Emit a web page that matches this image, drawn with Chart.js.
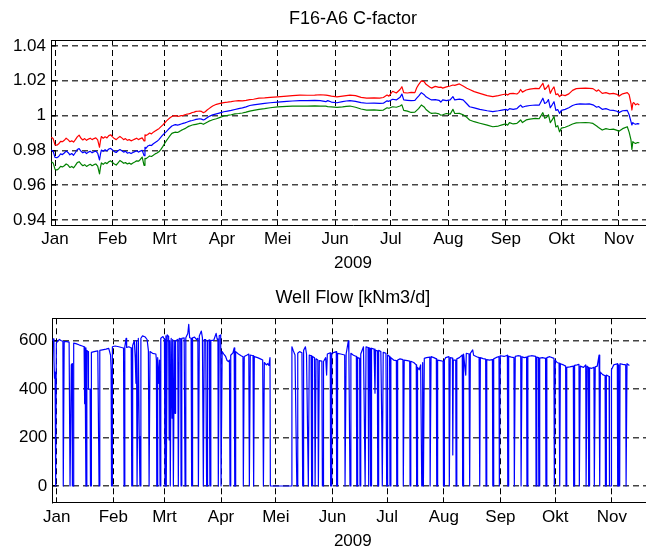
<!DOCTYPE html>
<html>
<head>
<meta charset="utf-8">
<script src="https://cdn.jsdelivr.net/npm/chart.js@4.4.1/dist/chart.umd.min.js"></script>
<style>
  html, body { margin: 0; padding: 0; background: #fff; }
  #wrap { position: relative; width: 646px; height: 550px; overflow: hidden; background: #fff; }
  #wrap canvas { position: absolute; left: 0; }
</style>
</head>
<body>
<div id="wrap">
  <canvas id="chartCFactor" width="660" height="275" style="top:0;width:660px;height:275px"></canvas>
  <canvas id="chartFlow" width="660" height="280" style="top:275px;width:660px;height:280px"></canvas>
</div>
<script>
// dag 0 = 1 januari 2009
const MONTH_DAYS = [0, 31, 59, 90, 120, 151, 181, 212, 243, 273, 304];
const MONTH_LABELS = ["Jan", "Feb", "Mrt", "Apr", "Mei", "Jun", "Jul", "Aug", "Sep", "Okt", "Nov"];
const C_TICKS = [0.94, 0.96, 0.98, 1, 1.02, 1.04];
const FLOW_TICKS = [0, 200, 400, 600];

const C_DAYS = [
  -2, -1, 0, 1, 2, 3, 4, 5, 6, 7,
  8, 9, 10, 11, 12, 13, 14, 15, 16, 17,
  18, 19, 20, 21, 22, 23, 24, 24.5, 25, 26,
  27, 28, 29, 30, 31, 32, 33, 34, 35, 36,
  37, 38, 39, 40, 41, 42, 43, 44, 45, 46,
  47, 48, 48.5, 49, 50, 51, 52, 53, 54, 55,
  56, 57, 58, 59, 60, 61, 62, 63, 64, 65,
  66, 67, 68, 69, 70, 71, 72, 73, 74, 75,
  76, 77, 78, 79, 80, 81, 82, 83, 84, 85,
  87, 89, 91, 93, 95, 97, 99, 101, 103, 105,
  107, 110, 113, 116, 120, 125, 128, 132, 136, 140,
  143, 146, 147, 149, 152, 155, 157, 159, 162, 165,
  168, 172, 175, 177, 179, 180, 182, 184, 186, 187,
  188, 190, 192, 194, 195, 196, 197.5, 199, 200, 202,
  203, 205, 207, 208, 209, 211, 213, 214.5, 215.5, 218,
  220, 222, 223.5, 226, 229, 233, 236, 239, 241, 243,
  244, 245, 247, 249, 250, 251, 252, 254, 256, 259,
  261, 263, 264, 265, 266, 267, 268, 269, 270, 271,
  272, 273, 275, 277, 279, 281, 283, 286, 288, 290,
  292, 293, 295, 297, 299, 301, 303, 304, 306, 308.5,
  309.5, 310.5, 311, 311.5, 312, 313, 314, 315
];

const C_RED = [
  0.9875, 0.9868, 0.9832, 0.9830, 0.9838, 0.9852, 0.9850, 0.9858, 0.9870, 0.9862,
  0.9850, 0.9855, 0.9848, 0.9862, 0.9878, 0.9888, 0.9870, 0.9860, 0.9868, 0.9858,
  0.9865, 0.9870, 0.9862, 0.9868, 0.9872, 0.9860, 0.9818, 0.9855, 0.9880, 0.9870,
  0.9878, 0.9872, 0.9885, 0.9890, 0.9878, 0.9868, 0.9862, 0.9872, 0.9880, 0.9872,
  0.9862, 0.9868, 0.9858, 0.9862, 0.9855, 0.9860, 0.9865, 0.9870, 0.9862, 0.9868,
  0.9872, 0.9855, 0.9890, 0.9885, 0.9892, 0.9900, 0.9895, 0.9905, 0.9912, 0.9918,
  0.9925, 0.9935, 0.9945, 0.9956, 0.9968, 0.9978, 0.9988, 0.9995, 0.9998, 1.0000,
  0.9996, 0.9997, 1.0000, 1.0000, 1.0005, 1.0008, 1.0010, 1.0013, 1.0018, 1.0020,
  1.0024, 1.0025, 1.0026, 1.0024, 1.0017, 1.0022, 1.0032, 1.0040, 1.0048, 1.0055,
  1.0065, 1.0070, 1.0075, 1.0077, 1.0080, 1.0084, 1.0086, 1.0085, 1.0088, 1.0092,
  1.0094, 1.0100, 1.0102, 1.0105, 1.0108, 1.0112, 1.0115, 1.0118, 1.0117, 1.0118,
  1.0120, 1.0118, 1.0116, 1.0112, 1.0108, 1.0112, 1.0115, 1.0118, 1.0115, 1.0105,
  1.0100, 1.0102, 1.0100, 1.0104, 1.0118, 1.0112, 1.0140, 1.0130, 1.0150, 1.0166,
  1.0132, 1.0130, 1.0134, 1.0132, 1.0160, 1.0178, 1.0200, 1.0195, 1.0180, 1.0165,
  1.0158, 1.0168, 1.0162, 1.0164, 1.0158, 1.0165, 1.0170, 1.0176, 1.0174, 1.0182,
  1.0170, 1.0157, 1.0150, 1.0138, 1.0128, 1.0115, 1.0109, 1.0115, 1.0120, 1.0124,
  1.0118, 1.0126, 1.0128, 1.0124, 1.0132, 1.0150, 1.0135, 1.0147, 1.0152, 1.0157,
  1.0155, 1.0186, 1.0150, 1.0160, 1.0176, 1.0128, 1.0150, 1.0165, 1.0120, 1.0125,
  1.0109, 1.0120, 1.0115, 1.0125, 1.0145, 1.0155, 1.0157, 1.0158, 1.0157, 1.0155,
  1.0140, 1.0148, 1.0128, 1.0132, 1.0125, 1.0128, 1.0122, 1.0112, 1.0125, 1.0132,
  1.0120, 1.0071, 1.0032, 1.0070, 1.0075, 1.0062, 1.0068, 1.0061
];

const C_BLUE = [
  0.9802, 0.9795, 0.9760, 0.9758, 0.9765, 0.9780, 0.9776, 0.9785, 0.9796, 0.9788,
  0.9775, 0.9782, 0.9772, 0.9788, 0.9805, 0.9810, 0.9795, 0.9786, 0.9792, 0.9782,
  0.9790, 0.9795, 0.9786, 0.9792, 0.9796, 0.9784, 0.9745, 0.9778, 0.9802, 0.9795,
  0.9804, 0.9797, 0.9808, 0.9812, 0.9802, 0.9793, 0.9788, 0.9798, 0.9805, 0.9798,
  0.9790, 0.9795, 0.9784, 0.9788, 0.9782, 0.9788, 0.9793, 0.9798, 0.9790, 0.9796,
  0.9800, 0.9770, 0.9818, 0.9812, 0.9825, 0.9830, 0.9828, 0.9838, 0.9845, 0.9852,
  0.9862, 0.9875, 0.9888, 0.9898, 0.9908, 0.9920, 0.9930, 0.9940, 0.9945, 0.9948,
  0.9945, 0.9948, 0.9952, 0.9955, 0.9958, 0.9962, 0.9966, 0.9970, 0.9972, 0.9975,
  0.9978, 0.9980, 0.9982, 0.9980, 0.9975, 0.9980, 0.9988, 0.9995, 1.0000, 1.0004,
  1.0010, 1.0016, 1.0022, 1.0026, 1.0030, 1.0035, 1.0040, 1.0044, 1.0050, 1.0058,
  1.0062, 1.0066, 1.0070, 1.0074, 1.0078, 1.0082, 1.0084, 1.0086, 1.0086, 1.0087,
  1.0086, 1.0080, 1.0086, 1.0078, 1.0074, 1.0080, 1.0084, 1.0086, 1.0082, 1.0075,
  1.0071, 1.0072, 1.0070, 1.0071, 1.0085, 1.0082, 1.0094, 1.0090, 1.0105, 1.0124,
  1.0090, 1.0088, 1.0086, 1.0088, 1.0100, 1.0112, 1.0132, 1.0120, 1.0108, 1.0095,
  1.0090, 1.0092, 1.0088, 1.0078, 1.0090, 1.0086, 1.0090, 1.0109, 1.0090, 1.0095,
  1.0090, 1.0068, 1.0051, 1.0044, 1.0036, 1.0028, 1.0023, 1.0028, 1.0032, 1.0036,
  1.0030, 1.0040, 1.0036, 1.0040, 1.0051, 1.0060, 1.0048, 1.0055, 1.0058, 1.0061,
  1.0060, 1.0100, 1.0070, 1.0075, 1.0092, 1.0045, 1.0062, 1.0080, 1.0030, 1.0035,
  1.0013, 1.0030, 1.0036, 1.0045, 1.0058, 1.0065, 1.0067, 1.0066, 1.0067, 1.0062,
  1.0048, 1.0052, 1.0036, 1.0040, 1.0032, 1.0030, 1.0025, 1.0017, 1.0028, 1.0030,
  1.0005, 0.9965, 0.9946, 0.9960, 0.9955, 0.9950, 0.9954, 0.9952
];

const C_GREEN = [
  0.9735, 0.9728, 0.9692, 0.9687, 0.9695, 0.9708, 0.9705, 0.9712, 0.9722, 0.9716,
  0.9702, 0.9708, 0.9700, 0.9714, 0.9730, 0.9735, 0.9722, 0.9712, 0.9718, 0.9708,
  0.9715, 0.9720, 0.9712, 0.9718, 0.9722, 0.9710, 0.9665, 0.9702, 0.9728, 0.9720,
  0.9730, 0.9724, 0.9735, 0.9740, 0.9730, 0.9722, 0.9716, 0.9728, 0.9742, 0.9735,
  0.9726, 0.9730, 0.9722, 0.9727, 0.9720, 0.9728, 0.9733, 0.9740, 0.9738, 0.9748,
  0.9762, 0.9714, 0.9755, 0.9752, 0.9760, 0.9768, 0.9765, 0.9772, 0.9780, 0.9785,
  0.9792, 0.9805, 0.9820, 0.9838, 0.9855, 0.9870, 0.9885, 0.9898, 0.9902, 0.9905,
  0.9903, 0.9908, 0.9915, 0.9920, 0.9925, 0.9932, 0.9938, 0.9942, 0.9946, 0.9948,
  0.9950, 0.9952, 0.9955, 0.9955, 0.9950, 0.9956, 0.9962, 0.9968, 0.9972, 0.9976,
  0.9982, 0.9990, 0.9998, 1.0001, 1.0005, 1.0010, 1.0012, 1.0015, 1.0020, 1.0026,
  1.0030, 1.0036, 1.0040, 1.0045, 1.0050, 1.0053, 1.0054, 1.0055, 1.0055, 1.0056,
  1.0055, 1.0054, 1.0052, 1.0050, 1.0047, 1.0050, 1.0053, 1.0055, 1.0048, 1.0038,
  1.0032, 1.0033, 1.0030, 1.0032, 1.0045, 1.0042, 1.0051, 1.0048, 1.0055, 1.0062,
  1.0030, 1.0026, 1.0018, 1.0020, 1.0030, 1.0040, 1.0061, 1.0050, 1.0035, 1.0018,
  1.0013, 1.0015, 1.0010, 1.0002, 1.0005, 1.0012, 1.0008, 1.0036, 1.0012, 1.0013,
  1.0005, 0.9990, 0.9975, 0.9965, 0.9956, 0.9945, 0.9936, 0.9940, 0.9947, 0.9952,
  0.9945, 0.9960, 0.9952, 0.9955, 0.9965, 0.9975, 0.9960, 0.9975, 0.9980, 0.9984,
  0.9982, 1.0017, 0.9985, 0.9990, 1.0005, 0.9960, 0.9975, 0.9995, 0.9935, 0.9942,
  0.9907, 0.9928, 0.9933, 0.9942, 0.9952, 0.9958, 0.9959, 0.9960, 0.9959, 0.9955,
  0.9940, 0.9932, 0.9917, 0.9925, 0.9920, 0.9922, 0.9915, 0.9910, 0.9925, 0.9936,
  0.9905, 0.9860, 0.9806, 0.9850, 0.9846, 0.9840, 0.9845, 0.9844
];

// [dag, kNm3/d]
const FLOW = [
  [-2.3, 600], [-1.8, 608], [-1.5, 520], [-1.2, 445], [-0.9, 470], [-0.7, 0], [-0.4, 0], [-0.2, 590],
  [0.5, 598], [1.5, 605], [2.5, 600], [3.4, 598], [3.6, 0], [3.9, 0], [4.1, 596], [5.5, 596],
  [6.8, 594], [7.3, 0], [7.8, 0], [8.0, 500], [8.4, 505], [8.6, 0], [9.1, 0], [9.3, 590],
  [10.5, 588], [12.5, 582], [14, 578], [15.0, 575], [15.3, 340], [15.5, 570], [16.0, 0], [16.3, 0],
  [16.5, 560], [17.2, 555], [17.4, 400], [18.3, 400], [18.5, 0], [18.8, 0], [19.0, 552], [20.5, 555],
  [22.5, 558], [23.2, 0], [23.5, 0], [23.7, 560], [25, 562], [27, 565], [28.5, 568], [29.5, 540],
  [29.8, 480], [30.0, 0], [30.3, 0], [30.5, 575], [32, 578], [34, 575], [35.5, 572], [36.6, 570],
  [36.9, 0], [37.2, 0], [37.4, 575], [38.0, 610], [38.3, 572], [39.5, 575], [40.8, 570], [41.1, 0],
  [41.4, 0], [41.6, 580], [42.5, 600], [43.0, 530], [43.4, 424], [43.7, 600], [44.0, 0], [44.4, 0],
  [44.7, 610], [45.2, 204], [45.6, 0], [45.9, 0], [46.1, 610], [47, 620], [48.5, 615], [49.5, 605],
  [50.2, 560], [50.6, 0], [50.9, 0], [51.1, 555], [52.5, 548], [54.3, 545], [54.6, 520], [54.8, 0],
  [55.1, 0], [55.3, 530], [55.9, 424], [56.3, 520], [56.6, 0], [56.9, 0], [57.1, 610], [58.2, 617],
  [59.0, 605], [59.3, 0], [59.6, 0], [59.8, 620], [60.0, 0], [60.3, 0], [60.5, 624], [61.3, 618],
  [61.6, 190], [61.9, 600], [62.2, 0], [62.5, 0], [62.7, 610], [63.2, 280], [63.5, 605], [63.9, 0],
  [64.2, 0], [64.4, 600], [64.8, 300], [65.1, 600], [66.3, 605], [66.6, 0], [66.9, 0], [67.1, 610],
  [67.9, 608], [68.1, 0], [68.4, 0], [68.6, 610], [69.8, 612], [70.3, 0], [70.6, 0], [70.8, 612],
  [71.8, 630], [72.3, 668], [72.8, 612], [73.6, 610], [73.9, 0], [74.2, 0], [74.4, 612], [75.5, 615],
  [76.5, 605], [77.3, 610], [77.6, 0], [77.9, 0], [78.1, 620], [79.2, 640], [79.8, 612], [80.3, 0],
  [80.6, 0], [80.8, 605], [81.6, 605], [82.1, 0], [82.4, 0], [82.6, 600], [83.5, 603], [83.9, 0],
  [84.2, 0], [84.4, 600], [86, 602], [87.3, 630], [87.9, 605], [88.3, 608], [88.5, 0], [88.8, 0],
  [89.0, 620], [89.8, 624], [90.0, 0], [90.4, 0], [90.6, 555], [91.5, 545], [92.5, 535], [93.3, 518],
  [94.0, 514], [94.6, 520], [94.9, 0], [95.2, 0], [95.4, 540], [96.5, 550], [97.2, 570], [97.5, 0],
  [97.8, 0], [98.0, 555], [99.5, 545], [101, 538], [102, 534], [102.2, 0], [102.5, 0], [102.7, 535],
  [104, 540], [105.2, 545], [105.5, 0], [105.8, 0], [106, 541], [107.5, 538], [107.7, 0], [108, 0],
  [108.2, 534], [110, 530], [111.5, 525], [112.8, 520], [113.2, 0], [113.5, 0], [113.7, 510], [114.8, 500],
  [115.5, 505], [116.2, 498], [116.8, 530], [117.0, 0], [128.7, 0], [128.8, 575], [129.5, 560], [130.5, 541],
  [131.5, 0], [131.8, 0], [132, 548], [133, 555], [134.3, 550], [134.7, 0], [135.0, 0], [135.2, 560],
  [136.2, 575], [136.8, 545], [137.8, 0], [138.1, 0], [138.3, 541], [139.3, 538], [139.6, 0], [139.9, 0],
  [140.1, 535], [141.2, 530], [141.5, 0], [141.8, 0], [142, 525], [143, 520], [143.3, 0], [143.6, 0],
  [143.8, 518], [145.2, 516], [145.5, 0], [145.9, 0], [146.1, 514], [147.3, 530], [147.8, 458], [148.2, 545],
  [149.8, 550], [150.0, 0], [150.4, 0], [150.6, 548], [152, 552], [153.1, 555], [153.3, 0], [153.6, 0],
  [153.8, 548], [155.5, 545], [157.7, 541], [157.9, 0], [158.3, 0], [158.5, 545], [159.7, 599], [160.0, 550],
  [160.6, 0], [160.9, 0], [161.1, 548], [162.5, 540], [164.1, 535], [164.3, 0], [164.6, 0], [164.8, 530],
  [165.9, 527], [166.1, 0], [166.4, 0], [166.6, 545], [168.0, 575], [168.9, 0], [169.2, 0], [169.4, 575],
  [170.5, 572], [170.7, 0], [171.0, 0], [171.2, 570], [171.7, 568], [171.9, 0], [172.2, 0], [172.4, 569],
  [173.8, 565], [174.3, 383], [174.6, 560], [175.6, 558], [175.8, 0], [176.1, 0], [176.3, 560], [177.5, 555],
  [178.0, 259], [178.3, 0], [178.6, 0], [178.8, 552], [180.3, 548], [180.7, 0], [181.0, 0], [181.2, 541],
  [182.3, 535], [182.5, 0], [182.8, 0], [183, 530], [184.5, 520], [186.0, 518], [186.2, 0], [186.5, 0],
  [186.7, 520], [188, 525], [189.6, 522], [189.8, 0], [190.1, 0], [190.3, 520], [192, 518], [193.3, 516],
  [193.5, 0], [193.8, 0], [194, 515], [195.5, 510], [196.9, 500], [197.1, 0], [197.4, 0], [197.6, 490],
  [198.5, 480], [199.3, 500], [199.9, 0], [200.2, 0], [200.4, 510], [200.8, 0], [201.1, 0], [201.3, 527],
  [202.5, 530], [204.3, 532], [204.5, 0], [204.8, 0], [205.0, 534], [206.5, 530], [207.9, 525], [208.1, 0],
  [208.4, 0], [208.6, 520], [210, 518], [211.6, 515], [211.8, 0], [212.1, 0], [212.3, 520], [213.0, 530],
  [214.8, 534], [215.0, 0], [215.3, 0], [215.5, 530], [216.7, 528], [216.9, 128], [217.2, 520], [218.5, 520],
  [218.7, 0], [219.0, 0], [219.2, 525], [220.5, 530], [222.1, 541], [222.3, 0], [222.6, 0], [222.8, 545],
  [224, 458], [224.3, 548], [225.8, 545], [226.0, 0], [226.3, 0], [226.5, 548], [227.8, 562], [228.3, 540],
  [230, 534], [231.3, 530], [231.5, 0], [231.8, 0], [232, 530], [233.5, 526], [234.9, 524], [235.1, 0],
  [235.4, 0], [235.6, 522], [237, 520], [238.6, 522], [238.8, 0], [239.1, 0], [239.3, 525], [240.5, 530],
  [242.2, 535], [242.4, 0], [242.7, 0], [242.9, 538], [245, 535], [246.8, 540], [247.0, 0], [247.3, 0],
  [247.5, 535], [249, 532], [250.4, 530], [250.6, 0], [250.9, 0], [251.1, 535], [252.5, 538], [254.1, 536],
  [254.3, 0], [254.6, 0], [254.8, 534], [256, 530], [257.3, 532], [257.5, 0], [257.8, 0], [258, 535],
  [260, 538], [262.3, 535], [262.5, 0], [262.8, 0], [263.0, 532], [263.8, 530], [264.0, 0], [264.3, 0],
  [264.5, 528], [266, 530], [267.7, 527], [267.9, 0], [268.2, 0], [268.4, 530], [270, 534], [272.3, 527],
  [272.5, 0], [272.8, 0], [273, 520], [274, 510], [275.1, 507], [275.3, 0], [275.6, 0], [275.8, 505],
  [277.5, 500], [278.7, 495], [278.9, 0], [279.2, 0], [279.4, 490], [281, 492], [282.9, 495], [283.1, 0],
  [283.4, 0], [283.6, 498], [285, 500], [286, 502], [286.2, 0], [286.5, 0], [286.7, 495], [288.5, 490],
  [289.7, 500], [289.9, 0], [290.2, 0], [290.4, 495], [291.1, 490], [291.3, 0], [291.6, 0], [291.8, 488],
  [293, 486], [294.2, 490], [294.4, 0], [294.7, 0], [294.9, 492], [296, 495], [297.0, 541], [297.2, 0],
  [297.5, 0], [297.7, 470], [299, 460], [300.3, 455], [300.5, 0], [300.8, 0], [301, 458], [302.5, 452],
  [302.7, 0], [303.6, 0], [303.8, 480], [305, 500], [307.0, 505], [307.2, 0], [307.5, 0], [307.7, 500],
  [307.9, 0], [308.3, 0], [308.5, 505], [310, 502], [311.6, 500], [311.8, 0], [312.1, 0], [312.3, 505],
  [313.6, 498]
];

const FONT = "'Liberation Sans', Arial, Helvetica, sans-serif";
const TICK_FONT = { family: FONT, size: 17, weight: "normal" };
const TITLE_FONT = { family: FONT, size: 18, weight: "normal" };

function monthTicks(scale) {
  scale.ticks = MONTH_DAYS.map((v) => ({ value: v }));
}

function tijdAs(min, max, hoogte, labelPad, titelPad) {
  return {
    type: "linear",
    position: "bottom",
    min: min,
    max: max,
    afterBuildTicks: monthTicks,
    afterFit: (s) => { s.height = hoogte; },
    ticks: {
      autoSkip: false,
      maxRotation: 0,
      color: "#000",
      font: TICK_FONT,
      padding: labelPad,
      callback: (v, i) => MONTH_LABELS[i],
    },
    grid: { color: "#000", lineWidth: 1, drawTicks: true, tickLength: -5, tickColor: "#000" },
    border: { display: true, color: "#000", width: 1, dash: [6, 4] },
    title: { display: true, text: "2009", color: "#000", font: TICK_FONT, padding: { top: 0, bottom: titelPad } },
  };
}

function bovenAs(min, max) {
  return {
    type: "linear",
    position: "top",
    min: min,
    max: max,
    afterBuildTicks: monthTicks,
    afterFit: (s) => { s.height = 0; },
    ticks: { display: false },
    grid: { drawOnChartArea: false, drawTicks: true, tickLength: -5, tickColor: "#000", color: "#000" },
    border: { display: true, color: "#000", width: 1 },
  };
}

function waardeAs(min, max, ticks, breedte) {
  return {
    type: "linear",
    position: "left",
    min: min,
    max: max,
    afterBuildTicks: (s) => { s.ticks = ticks.map((v) => ({ value: v })); },
    afterFit: (s) => { s.width = breedte; },
    ticks: { color: "#000", font: TICK_FONT, padding: 10, callback: (v) => String(v) },
    grid: { color: "#444", lineWidth: 1.5, drawTicks: true, tickLength: -5, tickColor: "#000" },
    border: { display: true, color: "#000", width: 1, dash: [6, 4] },
  };
}

function lijn(label, data, kleur) {
  return {
    label: label,
    data: data,
    borderColor: kleur,
    backgroundColor: kleur,
    borderWidth: 1.2,
    pointRadius: 0,
    tension: 0,
    borderJoinStyle: "round",
  };
}

function titel(tekst, top, bottom) {
  return {
    display: true,
    text: tekst,
    fullSize: false,
    color: "#000",
    font: TITLE_FONT,
    padding: { top: top, bottom: bottom },
  };
}

// C-factor, drie lijnen
new Chart(document.getElementById("chartCFactor"), {
  type: "line",
  data: {
    datasets: [
      lijn("rood", C_DAYS.map((d, i) => ({ x: d, y: C_RED[i] })), "#ff0000"),
      lijn("blauw", C_DAYS.map((d, i) => ({ x: d, y: C_BLUE[i] })), "#0000ff"),
      lijn("groen", C_DAYS.map((d, i) => ({ x: d, y: C_GREEN[i] })), "#008000"),
    ],
  },
  options: {
    responsive: false,
    animation: false,
    layout: { padding: { left: 0, right: 5, top: 0, bottom: 0 } },
    plugins: {
      legend: { display: false },
      tooltip: { enabled: false },
      title: titel("F16-A6 C-factor", 8.7, 9.7),
    },
    scales: {
      x: tijdAs(-2.16, 323.45, 50, 9.5, 1.5),
      xTop: bovenAs(-2.16, 323.45),
      y: waardeAs(0.93713, 1.04345, C_TICKS, 51),
    },
  },
});

// putdebiet
new Chart(document.getElementById("chartFlow"), {
  type: "line",
  data: {
    datasets: [
      lijn("debiet", FLOW.map(([d, v]) => ({ x: d, y: v })), "#0000ff"),
    ],
  },
  options: {
    responsive: false,
    animation: false,
    layout: { padding: { left: 0, right: 6.7, top: 0, bottom: 0 } },
    plugins: {
      legend: { display: false },
      tooltip: { enabled: false },
      title: titel("Well Flow [kNm3/d]", 12, 9.7),
    },
    scales: {
      x: tijdAs(-2.41, 326.7, 52.7, 10.3, 3.3),
      xTop: bovenAs(-2.41, 326.7),
      y: waardeAs(-67.3, 692.5, FLOW_TICKS, 52.3),
    },
  },
});
</script>
</body>
</html>
